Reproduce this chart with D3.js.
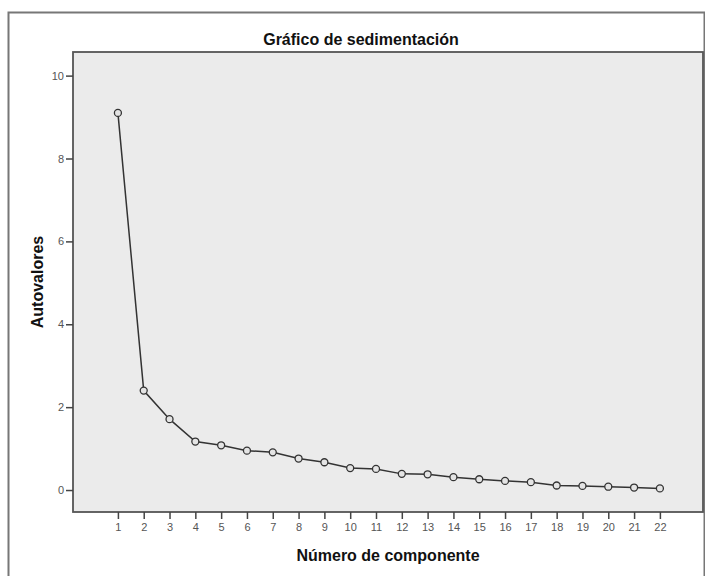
<!DOCTYPE html>
<html>
<head>
<meta charset="utf-8">
<script src="https://cdn.jsdelivr.net/npm/d3@7"></script>
<style>
  body { margin: 0; background: #fff; }
  text { font-family: "Liberation Sans", Arial, sans-serif; }
  .tickLabel { font-size: 11px; fill: #555; }
  .chartLabel { font-size: 16px; font-weight: bold; fill: #111; }
</style>
</head>
<body>
<script>
// eigenvalues
const components = d3.range(1, 23);
const eigenvalues = [9.10, 2.40, 1.71, 1.17, 1.08, 0.95, 0.91, 0.76, 0.67, 0.53, 0.51,
                     0.39, 0.38, 0.31, 0.26, 0.22, 0.19, 0.11, 0.10, 0.08, 0.06, 0.04];
const yTicks = [0, 2, 4, 6, 8, 10];

const width = 705, height = 576;
const plot = { left: 73, top: 52, right: 703, bottom: 512 };

const svg = d3.select("body").append("svg")
    .attr("width", width)
    .attr("height", height);

// outer frame (left, top, right edges)
svg.append("path")
    .attr("d", "M8.5,577 V12.5 H704.5 V577")
    .attr("fill", "none")
    .attr("stroke", "#777")
    .attr("stroke-width", 2);

// x scale - components
let xScree = d3.scaleLinear()
    .domain([-0.74, 23.67])
    .range([plot.left, plot.right]);

// y scale - eigenvalues
let yScree = d3.scaleLinear()
    .domain([-0.53, 10.57])
    .range([plot.bottom, plot.top]);

// plot background
svg.append("rect")
    .attr("x", plot.left)
    .attr("y", plot.top)
    .attr("width", plot.right - plot.left)
    .attr("height", plot.bottom - plot.top)
    .attr("fill", "#ebebeb")
    .attr("stroke", "#555")
    .attr("stroke-width", 1.8);

//Bottom axis
const xAxis = svg.append("g")
    .attr("transform", "translate(0," + plot.bottom + ")")
    .call(d3.axisBottom(xScree).tickValues(components).tickSize(7).tickPadding(4).tickFormat(d3.format("d")));

//left y axis
const yAxis = svg.append("g")
    .attr("transform", "translate(" + plot.left + ",0)")
    .call(d3.axisLeft(yScree).tickValues(yTicks).tickSize(7).tickPadding(2));

[xAxis, yAxis].forEach(ax => {
    ax.select(".domain").remove();
    ax.selectAll(".tick line").attr("stroke", "#444").attr("stroke-width", 1.5);
    ax.selectAll(".tick text").attr("class", "tickLabel").attr("font-family", null).attr("font-size", null);
});

// title and axis labels
svg.append("text")
    .attr("class", "chartLabel")
    .attr("x", 361)
    .attr("y", 45)
    .attr("text-anchor", "middle")
    .text("Gráfico de sedimentación");

svg.append("text")
    .attr("class", "chartLabel")
    .attr("x", (plot.left + plot.right) / 2)
    .attr("y", 561)
    .attr("text-anchor", "middle")
    .text("Número de componente");

svg.append("text")
    .attr("class", "chartLabel")
    .attr("transform", "translate(43," + (plot.top + plot.bottom) / 2 + ") rotate(-90)")
    .attr("text-anchor", "middle")
    .text("Autovalores");

// scree line
const line = d3.line()
    .x((d, i) => xScree(components[i]))
    .y(d => yScree(d));

svg.append("path")
    .datum(eigenvalues)
    .attr("d", line)
    .attr("fill", "none")
    .attr("stroke", "#333")
    .attr("stroke-width", 1.5);

// markers
svg.selectAll(".screePoint")
    .data(eigenvalues)
    .enter()
    .append("circle")
    .attr("class", "screePoint")
    .attr("cx", (d, i) => xScree(components[i]))
    .attr("cy", d => yScree(d))
    .attr("r", 3.5)
    .attr("fill", "#e4e4e4")
    .attr("stroke", "#333")
    .attr("stroke-width", 1.3);
</script>
</body>
</html>
